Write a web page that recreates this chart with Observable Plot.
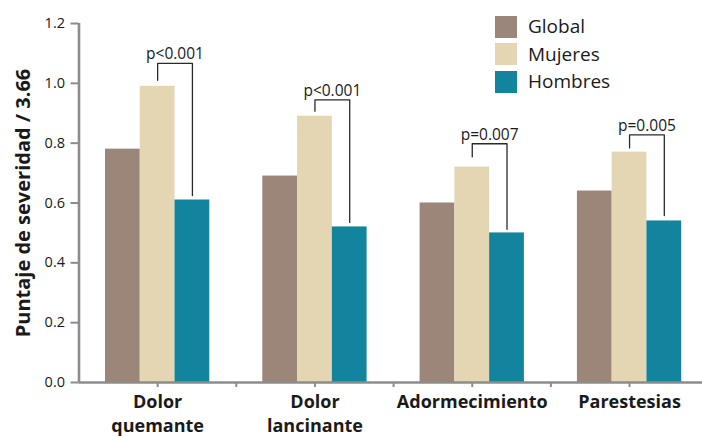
<!DOCTYPE html>
<html>
<head>
<meta charset="utf-8">
<script src="https://cdn.jsdelivr.net/npm/d3@7"></script>
<script src="https://cdn.jsdelivr.net/npm/@observablehq/plot@0.6"></script>
<style>
  html, body { margin: 0; padding: 0; background: #fff; overflow: hidden; }
  #wrap { position: relative; width: 702px; height: 437px; overflow: hidden; font-family: "Open Sans", sans-serif; }
  #wrap svg { max-width: none !important; display: block; }
  #legend { position: absolute; left: 495px; top: 13px; }
  .row { display: flex; align-items: center; height: 27.5px; }
  .sw { width: 22px; height: 22px; margin-right: 11px; }
  .lab { font-size: 19px; color: #1a1a1a; line-height: 1; }
</style>
</head>
<body>
<div id="wrap"><div id="legend"></div></div>
<script>
// Symptom categories (labels on the x axis)
const categories = ["Dolor\nquemante", "Dolor\nlancinante", "Adormecimiento", "Parestesias"];
// Series and their colours
const series = ["Global", "Mujeres", "Hombres"];
const seriesColors = ["#9c8679", "#e4d5b3", "#12849e"];
// Severity score / 3.66 per category
const globalValues = [0.78, 0.69, 0.60, 0.64];
const mujeresValues = [0.99, 0.89, 0.72, 0.77];
const hombresValues = [0.61, 0.52, 0.50, 0.54];
// Women vs men comparison
const pLabels = ["p<0.001", "p<0.001", "p=0.007", "p=0.005"];
const bracketTop = [1.067, 0.945, 0.798, 0.828];
const bracketLeftEnd = [1.01, 0.907, 0.754, 0.784];
const bracketRightEnd = [0.625, 0.535, 0.512, 0.558];
// Y axis ticks
const yTicks = [0, 0.2, 0.4, 0.6, 0.8, 1.0, 1.2];
const yTitle = "Puntaje de severidad / 3.66";

const valuesBySeries = [globalValues, mujeresValues, hombresValues];
const barW = 0.221; // bar width in category units

const rows = [];
series.forEach((s, k) => {
  valuesBySeries[k].forEach((v, i) => {
    rows.push({i, series: s, k, value: v});
  });
});

// Bracket joining the Mujeres and Hombres bars of each category
const brackets = [];
pLabels.forEach((p, i) => {
  const xl = i, xr = i + barW;
  brackets.push({i, x: xl, y: bracketLeftEnd[i]});
  brackets.push({i, x: xl, y: bracketTop[i]});
  brackets.push({i, x: xr, y: bracketTop[i]});
  brackets.push({i, x: xr, y: bracketRightEnd[i]});
});
const pRows = pLabels.map((p, i) => ({i, x: i + barW / 2, y: bracketTop[i], text: p}));

const axisGray = "#8c8c8c";
const idx = categories.map((_, i) => i);

const chart = Plot.plot({
  width: 710,
  height: 437,
  marginLeft: 78.5,
  marginRight: 2.3,
  marginTop: 23,
  marginBottom: 55,
  style: {fontFamily: "'Open Sans', sans-serif", color: "#1a1a1a", background: "transparent"},
  x: {domain: [-0.5, 3.5], axis: null},
  y: {domain: [0, 1.2], axis: null},
  color: {domain: series, range: seriesColors},
  marks: [
    Plot.rectY(rows, {
      x1: d => d.i + (d.k - 1.5) * barW,
      x2: d => d.i + (d.k - 0.5) * barW,
      y: "value",
      fill: "series"
    }),
    Plot.axisY({
      ticks: yTicks,
      tickFormat: d3.format(".1f"),
      tickSize: 8,
      tickPadding: 6,
      fontSize: 14.5,
      stroke: axisGray,
      strokeWidth: 2,
      label: null
    }),
    Plot.axisX({
      ticks: [0, 0.5, 1, 1.5, 2, 2.5, 3],
      tickFormat: () => "",
      tickSize: 5,
      stroke: axisGray,
      strokeWidth: 2,
      label: null
    }),
    Plot.ruleX([-0.5], {y1: 0, y2: 1.2, stroke: axisGray, strokeWidth: 2.6}),
    Plot.ruleY([0], {x1: -0.5, x2: 3.5, stroke: axisGray, strokeWidth: 2.6}),
    Plot.text(idx, {
      x: d => d,
      y: 0,
      text: d => categories[d],
      lineAnchor: "top",
      dy: 9,
      fontWeight: "bold",
      fontSize: 18,
      lineHeight: 1.3
    }),
    Plot.line(brackets, {x: "x", y: "y", z: "i", stroke: "#2a2a2a", strokeWidth: 1.3, curve: "linear"}),
    Plot.text(pRows, {x: "x", y: "y", text: "text", lineAnchor: "bottom", dy: -4, fontSize: 15.5}),
    Plot.text([yTitle], {
      frameAnchor: "left",
      textAnchor: "middle",
      rotate: -90,
      dx: -55,
      fontWeight: "bold",
      fontSize: 20
    })
  ]
});

const wrap = document.getElementById("wrap");
wrap.insertBefore(chart, wrap.firstChild);

const legend = document.getElementById("legend");
series.forEach((s, k) => {
  const row = document.createElement("div");
  row.className = "row";
  const sw = document.createElement("div");
  sw.className = "sw";
  sw.style.background = seriesColors[k];
  const lab = document.createElement("span");
  lab.className = "lab";
  lab.textContent = s;
  row.appendChild(sw);
  row.appendChild(lab);
  legend.appendChild(row);
});
</script>
</body>
</html>
